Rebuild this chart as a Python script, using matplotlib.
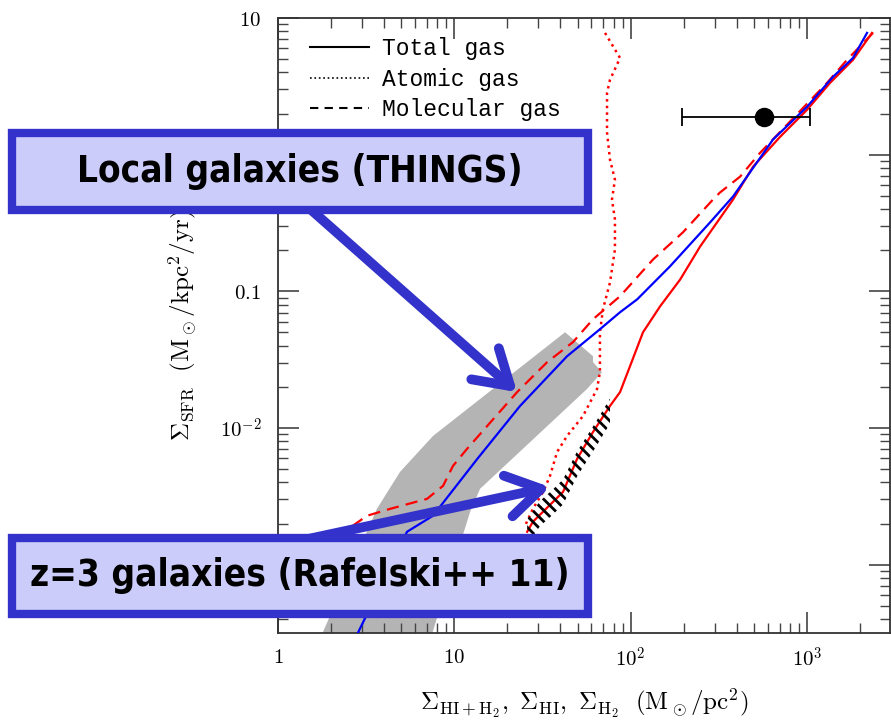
import numpy as np
import matplotlib.pyplot as plt
from matplotlib import font_manager as fm
from matplotlib.lines import Line2D
from matplotlib.patches import Rectangle
from matplotlib.ticker import FixedLocator, FixedFormatter, NullFormatter, LogLocator

plt.rcParams['mathtext.fontset'] = 'cm'
plt.rcParams['hatch.linewidth'] = 2.0

# red model: total gas (solid)
red_tot_x = [2340, 1825, 1352, 1002, 704, 495, 381, 248, 191, 147, 117.6, 99.3, 87.1, 76.4, 61.2, 49.7, 41.4, 36.3, 27.9, 25.9]
red_tot_y = [7.78, 4.94, 3.35, 2.13, 1.35, 0.817, 0.469, 0.213, 0.122, 0.0777, 0.0502, 0.0284, 0.0183, 0.0145,
             0.00935, 0.00594, 0.00341, 0.00288, 0.00206, 0.00174]
# red model: atomic gas (dotted)
red_hi_x = [71.6, 87.1, 76.4, 73.5, 73.5, 76.4, 81.5, 78.4, 81.5, 81.5, 76.4, 69.7, 67.0, 67.0, 64.5, 53.7,
            43.6, 38.3, 34.9, 31.9, 27.9, 25.2]
red_hi_y = [7.78, 5.1, 3.53, 2.84, 1.45, 0.92, 0.657, 0.469, 0.335, 0.203, 0.116, 0.0739, 0.0502, 0.0256,
            0.0193, 0.01224, 0.00874, 0.00668, 0.00446, 0.00341, 0.00256, 0.00193]
# red model: molecular gas (dashed)
red_h2_x = [2371, 1688, 1300, 542, 418, 321, 293, 198, 134, 87.1, 61.2, 47.1, 33.6, 22.7, 11.8, 9.83, 8.63,
            7.0, 4.32, 3.2, 2.66]
red_h2_y = [7.78, 4.94, 3.35, 1.03, 0.691, 0.528, 0.469, 0.270, 0.171, 0.092, 0.0625, 0.0425, 0.0303, 0.0183,
            0.00703, 0.00528, 0.00377, 0.00303, 0.00256, 0.00228, 0.00193]
# blue model: total gas
blue_tot_x = [2193, 1825, 1406, 1002, 642, 381, 282, 167, 109, 87.1, 67.0, 43.6, 23.6, 13.5, 7.57, 5.39, 2.81]
blue_tot_y = [7.78, 5.1, 3.71, 2.24, 1.29, 0.494, 0.319, 0.152, 0.0874, 0.0703, 0.0528, 0.0335, 0.0145,
              0.00594, 0.00228, 0.00174, 3.08e-4]

# THINGS local galaxies region (grey band outline)
things_x = [42.5, 61.2, 61.2, 68.8, 56.6, 14.0, 12.3, 5.75, 1.23, 3.64, 4.92, 7.57]
things_y = [0.0502, 0.0335, 0.0303, 0.0256, 0.0193, 0.00359, 0.00244, 1.05e-4, 1.05e-4, 0.00256, 0.00477, 0.00874]

# Rafelski++11 z=3 region
raf_x = [25.9, 30.6, 36.3, 41.4, 49.7, 61.2, 76.4]
raf_lo = [0.00141, 0.00191, 0.00233, 0.00276, 0.00442, 0.00673, 0.01077]
raf_hi = [0.00215, 0.00292, 0.00356, 0.00421, 0.00674, 0.01026, 0.01643]

# single data point with error bar
pt_x, pt_y = [568], [1.89]
pt_xerr = [[373], [472]]

# annotation arrow targets (data coords)
arrow_tip_x = [22.7, 34.9]
arrow_tip_y = [0.0183, 0.0037]

W, H = 891, 726


def fx(px):
    return px / W


def fy(py):
    return 1 - py / H


# pick a condensed bold sans if one is installed
box_font = None
box_size = 26.5
for f in fm.fontManager.ttflist:
    if f.name == 'Liberation Sans Narrow' and f.weight in ('bold', 700):
        box_font = fm.FontProperties(fname=f.fname)
        box_size = 31
        break
if box_font is None:
    for f in fm.fontManager.ttflist:
        w = f.weight if isinstance(f.weight, int) else {'bold': 700}.get(f.weight, 400)
        if 'condensed' in str(f.stretch) and w >= 700 and 'Sans' in f.name and 'Mono' not in f.name:
            box_font = fm.FontProperties(fname=f.fname)
            break
if box_font is None:
    box_font = fm.FontProperties(family='Liberation Sans', weight='bold')
    box_size = 27
box_font.set_size(box_size)

fig = plt.figure(figsize=(W / 100, H / 100), dpi=100)
ax = fig.add_axes([fx(278), fy(633), fx(890) - fx(278), fy(18) - fy(633)])
ax.set_xscale('log')
ax.set_yscale('log')
ax.set_xlim(1, 2960)
ax.set_ylim(10 ** -3.5, 10)

ax.fill(things_x, things_y, color='#b4b4b4', lw=0, zorder=1)
ax.plot(red_hi_x, red_hi_y, color='red', lw=1.8, ls=':', zorder=2)
ax.plot(red_h2_x, red_h2_y, color='red', lw=1.6, dashes=(5.5, 3.2), zorder=2)
ax.plot(red_tot_x, red_tot_y, color='red', lw=1.6, zorder=2)
ax.plot(blue_tot_x, blue_tot_y, color='blue', lw=1.6, zorder=3)
ax.fill_between(raf_x, raf_lo, raf_hi, facecolor='none', edgecolor='black', hatch='\\\\\\', lw=0, zorder=3)
ax.errorbar(pt_x, pt_y, xerr=pt_xerr, fmt='o', color='black', ms=13, capsize=6.5,
            elinewidth=1.3, capthick=1.3, zorder=4)

# ticks
ax.xaxis.set_major_locator(FixedLocator([1, 10, 100, 1000]))
ax.xaxis.set_major_formatter(FixedFormatter(['$1$', '$10$', '$10^2$', '$10^3$']))
ax.yaxis.set_major_locator(FixedLocator([1e-3, 1e-2, 0.1, 1, 10]))
ax.yaxis.set_major_formatter(FixedFormatter(['$10^{-3}$', '$10^{-2}$', '$0.1$', '$1$', '$10$']))
ax.xaxis.set_minor_locator(LogLocator(subs=np.arange(2, 10)))
ax.yaxis.set_minor_locator(LogLocator(subs=np.arange(2, 10)))
ax.xaxis.set_minor_formatter(NullFormatter())
ax.yaxis.set_minor_formatter(NullFormatter())
ax.tick_params(which='both', direction='in', top=True, right=True, color='#444444')
ax.tick_params(which='major', length=15, width=1.2, labelsize=15)
ax.tick_params(which='minor', length=7, width=1.0)
ax.tick_params(axis='x', pad=10)
ax.tick_params(axis='y', pad=12)
for s in ax.spines.values():
    s.set_color('#333333')
    s.set_linewidth(1.3)

ax.set_xlabel(r'$\Sigma_{\rm HI+H_2},\ \Sigma_{\rm HI},\ \Sigma_{\rm H_2}\ \ ({\rm M_\odot/pc^2})$', fontsize=18)
ax.set_ylabel(r'$\Sigma_{\rm SFR}\ \ ({\rm M_\odot/kpc^2/yr})$', fontsize=18)
ax.xaxis.set_label_coords(0.5, -0.088)
ax.yaxis.set_label_coords(-0.13, 0.5)

handles = [Line2D([], [], color='black', lw=1.5),
           Line2D([], [], color='black', lw=1.2, ls=':'),
           Line2D([], [], color='black', lw=1.5, dashes=(4, 3))]
ax.legend(handles, ['Total gas', 'Atomic gas', 'Molecular gas'], loc='upper left',
          bbox_to_anchor=(0.052, 0.969), frameon=False, borderpad=0, borderaxespad=0,
          handlelength=2.6, handletextpad=0.55, labelspacing=0.33,
          prop={'family': 'Liberation Mono', 'size': 16.5})

# arrows from the labels
arrow_col = '#3333cc'
starts = [(300, 200), (280, 545)]
for (sx, sy), tx, ty in zip(starts, arrow_tip_x, arrow_tip_y):
    ax.annotate('', xy=(tx, ty), xycoords='data', xytext=(fx(sx), fy(sy)), textcoords='figure fraction',
                arrowprops=dict(arrowstyle='->,head_length=1.05,head_width=0.65', lw=7, color=arrow_col,
                                mutation_scale=23, shrinkA=0, shrinkB=0, capstyle='round', joinstyle='round'))

# label boxes
boxes = [((12, 133, 588, 210), 'Local galaxies (THINGS)'),
         ((12, 538, 588, 614), 'z=3 galaxies (Rafelski++ 11)')]
for (x0, y0, x1, y1), txt in boxes:
    fig.add_artist(Rectangle((fx(x0), fy(y1)), fx(x1) - fx(x0), fy(y0) - fy(y1), transform=fig.transFigure,
                             facecolor='#ccccfa', edgecolor=arrow_col, lw=6, zorder=5))
    fig.text(fx((x0 + x1) / 2), fy((y0 + y1) / 2), txt, ha='center', va='center',
             fontproperties=box_font, zorder=6)

fig.savefig('out.png', dpi=100)
